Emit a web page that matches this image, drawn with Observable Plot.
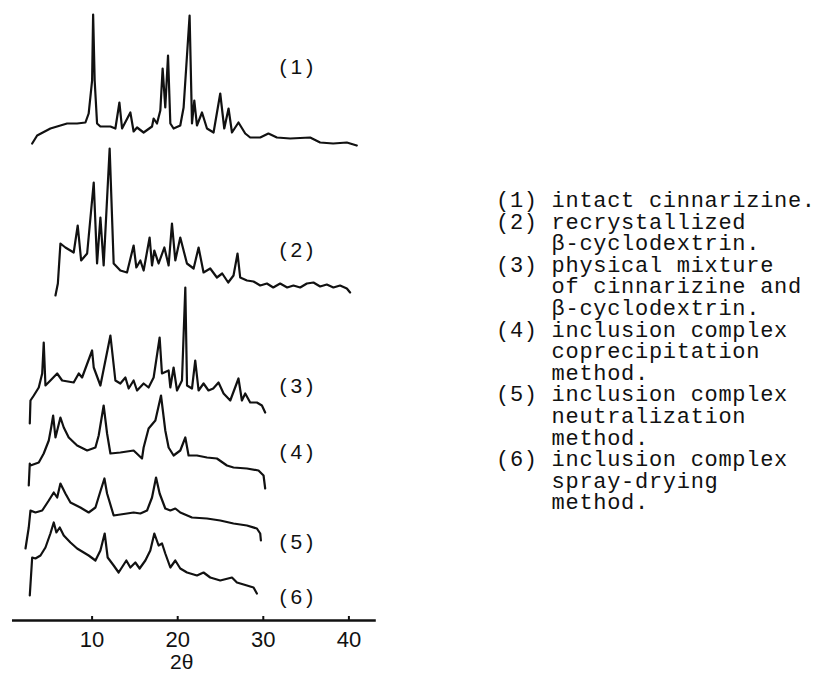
<!DOCTYPE html>
<html>
<head>
<meta charset="utf-8">
<script src="https://cdn.jsdelivr.net/npm/d3@7"></script>
<script src="https://cdn.jsdelivr.net/npm/@observablehq/plot@0.6"></script>
<style>
  html, body { margin: 0; padding: 0; background: #fff; }
  #wrap { position: relative; width: 825px; height: 693px; overflow: hidden; }
  #wrap svg { position: absolute; left: 0; top: 0; }
  #legend { position: absolute; left: 496px; top: 191px; margin: 0;
    font-family: "Liberation Mono", "DejaVu Sans Mono", monospace; font-size: 22px;
    line-height: 21.6px; letter-spacing: 0.7px; color: #111; white-space: pre; }
</style>
</head>
<body>
<div id="wrap"><div id="legend"></div></div>
<script>
// ---- data (2θ in degrees, intensity in arbitrary units) ----
const seriesNames = ["(1)", "(2)", "(3)", "(4)", "(5)", "(6)"];
const offsets = [475, 325, 197, 135, 72, 25];          // vertical stacking offset of each pattern
const labelLevels = [553, 370, 234, 168, 78, 23];      // level of the "(n)" annotation of each pattern
const labelTheta = 34.1;
const xTicks = [10, 20, 30, 40];
const axisExtent = [0.7, 43.2];
const axisTitle = "2θ";

const tt1 = [3.0,3.58,5.13,7.08,8.25,9.22,9.6,10.0,10.12,10.3,10.58,10.97,12.14,12.72,13.19,13.5,14.47,14.85,15.25,16.02,17.0,17.19,17.58,17.97,18.24,18.55,18.87,19.14,19.52,20.3,20.69,21.39,21.67,21.94,22.25,22.84,23.42,24.19,24.97,25.44,25.94,26.34,27.1,27.89,28.47,29.64,30.6,31.59,33.14,35.47,36.64,38.16,39.76,40.92];
const in1 = [2,10,17,22,22,23,32,65,131,65,22,19,19,17,43,17,33,14,18,13,19,27,22,35,77,38,90,22,17,20,38,130,22,45,20,33,17,13,52,17,37,13,23,12,8,8,12,8,7,8,3,2,3,0];

const tt2 = [5.72,6.0,6.3,6.88,7.85,8.32,8.72,9.42,10.19,10.58,10.97,11.35,12.05,12.52,13.3,14.08,14.85,15.17,15.64,16.02,16.72,17.0,17.27,17.77,18.44,18.94,19.33,19.72,20.3,21.08,21.86,22.44,23.02,23.8,24.58,25.2,25.9,26.52,26.99,27.3,28.09,28.86,29.64,30.42,31.16,31.97,32.79,33.52,34.31,35.09,35.86,36.64,37.42,38.19,38.97,39.76,40.14];
const in2 = [0,12,52,48,43,70,35,42,113,32,78,30,147,32,25,23,50,28,35,25,58,30,45,32,48,30,72,35,58,32,27,48,23,27,18,22,13,20,42,18,15,14,10,12,8,12,8,10,8,12,13,9,11,8,10,7,3];

const tt3 = [2.72,2.8,3.19,3.77,4.17,4.35,4.55,5.13,5.92,6.5,7.85,8.44,8.83,10.0,10.19,10.97,12.14,12.72,13.3,13.89,14.27,14.85,15.25,16.02,16.6,17.19,17.89,18.16,18.94,19.14,19.52,19.92,20.5,20.89,21.09,21.67,22.05,22.44,23.02,23.6,24.15,24.77,25.36,26.14,27.1,27.5,27.89,28.47,29.25,29.84,30.22];
const in3 = [0,23,28,36,50,81,38,43,50,43,41,50,46,73,56,38,88,43,40,46,35,43,33,40,36,46,86,50,53,36,56,33,43,136,38,35,63,33,40,33,35,41,30,23,45,23,30,21,21,18,11];

const tt4 = [2.6,2.72,2.8,3.77,4.35,4.94,5.22,5.45,5.72,6.3,6.69,7.27,8.25,9.42,10.39,10.77,11.35,11.75,12.14,13.3,14.85,15.83,16.02,16.6,17.39,18.05,18.55,18.94,19.52,20.3,20.89,21.27,22.25,23.42,24.58,25.75,26.52,28.09,29.44,30.03,30.22];
const in4 = [0,22,20,23,32,45,58,70,48,68,58,48,40,35,38,50,80,52,32,33,35,27,38,57,65,90,55,38,30,35,48,30,30,28,27,20,18,17,15,10,-3];

const tt5 = [2.22,2.6,2.8,3.38,4.17,4.94,5.52,5.92,6.3,6.88,7.47,8.63,9.6,10.39,10.89,11.44,11.75,12.52,14.08,14.85,15.64,16.42,17.0,17.47,17.89,18.55,19.14,19.72,20.3,21.67,23.42,24.97,26.52,28.09,29.25,29.64,29.72];
const in5 = [0,21,38,36,38,48,56,51,65,55,46,41,36,41,55,70,55,33,35,36,35,38,51,71,55,40,38,40,36,31,30,28,25,23,20,15,8];

const tt6 = [2.72,3.0,3.38,3.97,4.55,5.13,5.52,5.83,6.22,6.69,7.47,8.25,9.02,9.6,10.39,10.97,11.47,11.82,12.52,13.1,14.0,14.47,15.05,15.55,16.22,16.8,17.27,17.77,18.17,18.55,19.14,19.72,20.3,21.09,22.25,23.02,23.8,24.97,26.34,26.92,28.09,28.86,29.25];
const in6 = [0,38,37,40,48,62,73,63,68,60,53,47,43,40,35,45,62,38,30,23,35,28,33,27,35,45,62,50,52,42,28,35,27,23,20,23,18,15,18,13,10,8,2];

const legendLines = [
  "(1) intact cinnarizine.",
  "(2) recrystallized",
  "    β-cyclodextrin.",
  "(3) physical mixture",
  "    of cinnarizine and",
  "    β-cyclodextrin.",
  "(4) inclusion complex",
  "    coprecipitation",
  "    method.",
  "(5) inclusion complex",
  "    neutralization",
  "    method.",
  "(6) inclusion complex",
  "    spray-drying",
  "    method."
];

// ---- build tables ----
const thetas = [tt1, tt2, tt3, tt4, tt5, tt6];
const intens = [in1, in2, in3, in4, in5, in6];
const traces = thetas.flatMap((tt, s) =>
  tt.map((t, i) => ({theta: t, level: intens[s][i] + offsets[s], series: seriesNames[s]})));
const labels = seriesNames.map((n, s) => ({name: n, theta: labelTheta, level: labelLevels[s]}));

const plot = Plot.plot({
  width: 825,
  height: 693,
  marginLeft: 6,
  marginRight: 391,
  marginTop: 0,
  marginBottom: 73,
  style: {fontFamily: "'Liberation Sans', Arial, sans-serif", background: "white", color: "#111"},
  x: {domain: [0, 50]},
  y: {domain: [0, 620], axis: null},
  marks: [
    Plot.line(traces, {x: "theta", y: "level", z: "series", stroke: "#111", strokeWidth: 2.2, strokeLinejoin: "round"}),
    Plot.ruleY([0], {x1: axisExtent[0], x2: axisExtent[1], stroke: "#111", strokeWidth: 2.5}),
    Plot.ruleX(xTicks, {y1: 0, y2: 4, stroke: "#111", strokeWidth: 2}),
    Plot.axisX({ticks: xTicks, tickSize: 0, tickPadding: 11, fontSize: 22, label: null, tickFormat: d => String(d)}),
    Plot.text(labels, {x: "theta", y: "level", text: "name", fontSize: 21, fill: "#111"}),
    Plot.text([axisTitle], {x: 20, frameAnchor: "bottom", dx: 4, dy: 48, fontSize: 21, fill: "#111"})
  ]
});
plot.style.position = "absolute";
const wrap = document.getElementById("wrap");
wrap.insertBefore(plot, wrap.firstChild);
plot.querySelectorAll("text").forEach(t => {
  if (/^\(\d\)$/.test(t.textContent)) t.setAttribute("letter-spacing", "4");
});
document.getElementById("legend").textContent = legendLines.join("\n");
</script>
</body>
</html>
